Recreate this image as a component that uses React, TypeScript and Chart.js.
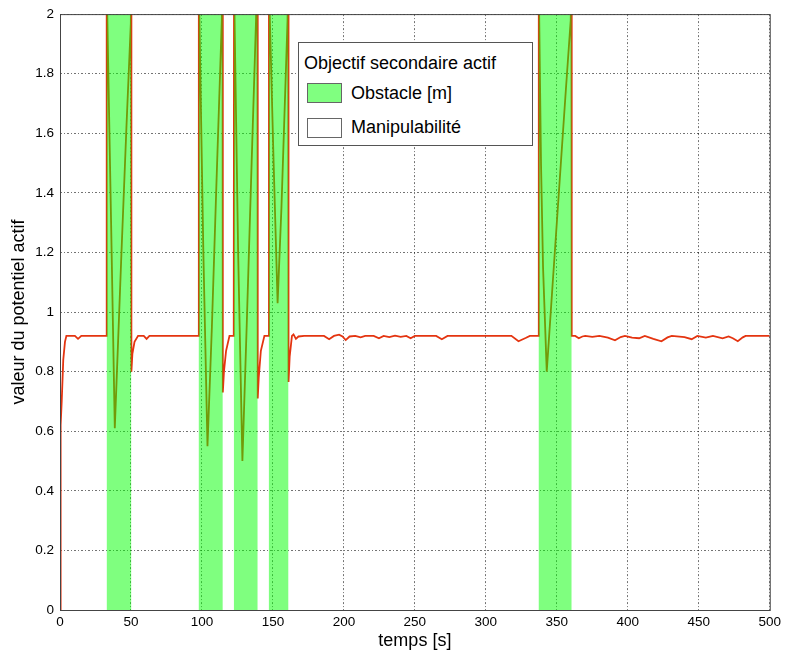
import React, { useEffect, useRef } from "react";
import { Chart, registerables } from "chart.js";
Chart.register(...registerables);

const xTickValues = [0, 50, 100, 150, 200, 250, 300, 350, 400, 450, 500];
const yTickValues = [0, 0.2, 0.4, 0.6, 0.8, 1, 1.2, 1.4, 1.6, 1.8, 2];
const yTickLabels = ["0", "0.2", "0.4", "0.6", "0.8", "1", "1.2", "1.4", "1.6", "1.8", "2"];

const obstacleStart = [32.8, 97.6, 122.4, 147, 337.1];
const obstacleEnd = [50.3, 114.7, 139.3, 161, 360.5];
const obstacleTop = 2;

const timeS = [
  0, 0.2, 0.7, 1.2, 2.3, 3.5, 4.5, 10.5, 12.7, 15, 32.8,
  32.9, 36, 38.6, 43.3, 46.8, 49.9, 50.1, 50.3, 51, 52.5, 55, 59, 61, 63, 97.6,
  97.8, 101, 103.9, 107, 110, 114, 114.5, 114.7, 115.5, 117, 119.4, 122.4,
  122.6, 125.5, 128.5, 131.5, 135, 138.1, 139.1, 139.3, 140, 141.5, 144, 147,
  147.2, 150.5, 153.3, 156, 160.3, 160.8, 161, 161.8, 163.4, 164.5, 166.2, 168, 172,
  186, 189.6, 193, 196.6, 199, 201.3, 204, 208, 211.8, 215, 221, 224.7, 228, 232, 236, 240, 244, 247, 250,
  265, 269, 273, 318, 323, 328, 331, 337.1,
  337.3, 338.9, 340.3, 342.9, 347, 352, 356, 359.8, 360.3, 360.5,
  363, 365.5, 368, 370, 375, 380, 386, 391, 395, 398, 403, 408, 412, 418, 423.7, 428, 431,
  440, 445, 449, 455, 460, 466.8, 471, 474, 477.5, 481, 483, 500,
];
const potentielActif = [
  0, 0.4, 0.62, 0.7, 0.84, 0.9, 0.92, 0.92, 0.91, 0.92, 0.92,
  2.1, 1.3, 0.61, 1.2, 1.62, 1.97, 2.2, 0.8, 0.86, 0.9, 0.92, 0.92, 0.91, 0.92, 0.92,
  2.1, 1.2, 0.55, 0.95, 1.4, 1.98, 2.2, 0.73, 0.8, 0.87, 0.92, 0.92,
  2.1, 1.2, 0.5, 0.95, 1.5, 1.98, 2.2, 0.71, 0.78, 0.87, 0.92, 0.92,
  2.1, 1.5, 1.03, 1.35, 1.98, 2.2, 0.765, 0.85, 0.92, 0.925, 0.91, 0.918, 0.92,
  0.92, 0.909, 0.92, 0.924, 0.918, 0.906, 0.918, 0.92, 0.915, 0.92, 0.92, 0.912, 0.92, 0.916, 0.921, 0.917, 0.92, 0.912, 0.92,
  0.92, 0.909, 0.92, 0.92, 0.902, 0.913, 0.92, 0.92,
  2.1, 1.49, 1.15, 0.8, 1.09, 1.44, 1.72, 1.98, 2.2, 0.92,
  0.92, 0.912, 0.918, 0.92, 0.917, 0.92, 0.914, 0.905, 0.916, 0.92, 0.914, 0.912, 0.92, 0.91, 0.902, 0.915, 0.92,
  0.916, 0.909, 0.92, 0.914, 0.92, 0.912, 0.918, 0.912, 0.902, 0.915, 0.92, 0.92,
];

const FONT = "'Liberation Sans', Arial, Helvetica, sans-serif";

const framePlugin = {
  id: "frame",
  afterDraw(chart: any) {
    const { ctx, chartArea } = chart;
    ctx.save();
    ctx.strokeStyle = "#444";
    ctx.lineWidth = 1;
    ctx.strokeRect(chartArea.left + 0.5, chartArea.top + 0.5, chartArea.right - chartArea.left, chartArea.bottom - chartArea.top);
    ctx.restore();
  },
};

export default function App() {
  const canvasRef = useRef<HTMLCanvasElement | null>(null);

  useEffect(() => {
    if (!canvasRef.current) return;
    const potData = timeS.map((t, i) => ({ x: t, y: potentielActif[i] }));
    const obstacleSets = obstacleStart.map((s, i) => ({
      label: "Obstacle [m]",
      data: [
        { x: s, y: obstacleTop },
        { x: obstacleEnd[i], y: obstacleTop },
      ],
      borderWidth: 0,
      borderColor: "rgba(0,0,0,0)",
      backgroundColor: "rgba(0,255,0,0.5)",
      fill: "origin",
      pointRadius: 0,
      order: 0,
    }));
    const chart = new Chart(canvasRef.current, {
      type: "line",
      data: {
        datasets: [
          {
            label: "Manipulabilité",
            data: potData,
            borderColor: "rgb(228,52,16)",
            borderWidth: 1.8,
            pointRadius: 0,
            tension: 0,
            fill: false,
            order: 1,
          },
          ...obstacleSets,
        ] as any,
      },
      options: {
        responsive: false,
        animation: false,
        events: [],
        layout: { padding: { top: 13, right: 13, left: 0, bottom: 0 } },
        plugins: { legend: { display: false }, tooltip: { enabled: false } },
        scales: {
          x: {
            type: "linear",
            min: 0,
            max: 500,
            afterBuildTicks: (scale: any) => {
              scale.ticks = xTickValues.map((v) => ({ value: v }));
            },
            afterFit: (scale: any) => {
              scale.height = 46;
            },
            ticks: {
              color: "#000",
              font: { family: FONT, size: 13.5 },
              padding: 4,
              maxRotation: 0,
              autoSkip: false,
              callback: (v: any) => String(v),
            },
            grid: {
              color: "rgba(0,0,0,0.55)",
              drawTicks: false,
              lineWidth: 1,
            },
            border: { display: false, dash: [2, 2, 1, 2] },
            title: {
              display: true,
              text: "temps [s]",
              color: "#000",
              font: { family: FONT, size: 18 },
              padding: { top: 0, bottom: 4 },
            },
          },
          y: {
            type: "linear",
            min: 0,
            max: 2,
            afterBuildTicks: (scale: any) => {
              scale.ticks = yTickValues.map((v) => ({ value: v }));
            },
            afterFit: (scale: any) => {
              scale.width = 60;
            },
            ticks: {
              color: "#000",
              font: { family: FONT, size: 13.5 },
              padding: 6,
              autoSkip: false,
              callback: (v: any) => {
                const idx = yTickValues.findIndex((t) => Math.abs(t - v) < 1e-6);
                return idx >= 0 ? yTickLabels[idx] : "";
              },
            },
            grid: {
              color: "rgba(0,0,0,0.55)",
              drawTicks: false,
              lineWidth: 1,
            },
            border: { display: false, dash: [2, 2, 1, 2] },
            title: {
              display: true,
              text: "valeur du potentiel actif",
              color: "#000",
              font: { family: FONT, size: 18 },
              padding: { top: 8, bottom: 0 },
            },
          },
        },
      },
      plugins: [framePlugin],
    });
    return () => chart.destroy();
  }, []);

  const legendText = { position: "absolute" as const, fontFamily: FONT, fontSize: 18, color: "#000", whiteSpace: "nowrap" as const, lineHeight: "20px" };

  return (
    <div style={{ position: "absolute", left: 0, top: 0, width: 785, height: 656, background: "#fff" }}>
      <canvas ref={canvasRef} width={785} height={656} style={{ display: "block" }} />
      <div
        style={{
          position: "absolute",
          left: 298,
          top: 42,
          width: 235,
          height: 104,
          boxSizing: "border-box",
          border: "1px solid #555",
          background: "#fff",
        }}
      >
        <div style={{ ...legendText, left: 5, top: 10 }}>Objectif secondaire actif</div>
        <div style={{ position: "absolute", left: 8, top: 40, width: 35, height: 20, boxSizing: "border-box", border: "1px solid #666", background: "#80ff80" }} />
        <div style={{ ...legendText, left: 52, top: 40 }}>Obstacle [m]</div>
        <div style={{ position: "absolute", left: 8, top: 75, width: 35, height: 20, boxSizing: "border-box", border: "1px solid #666", background: "#fff" }} />
        <div style={{ ...legendText, left: 52, top: 74 }}>Manipulabilité</div>
      </div>
    </div>
  );
}
